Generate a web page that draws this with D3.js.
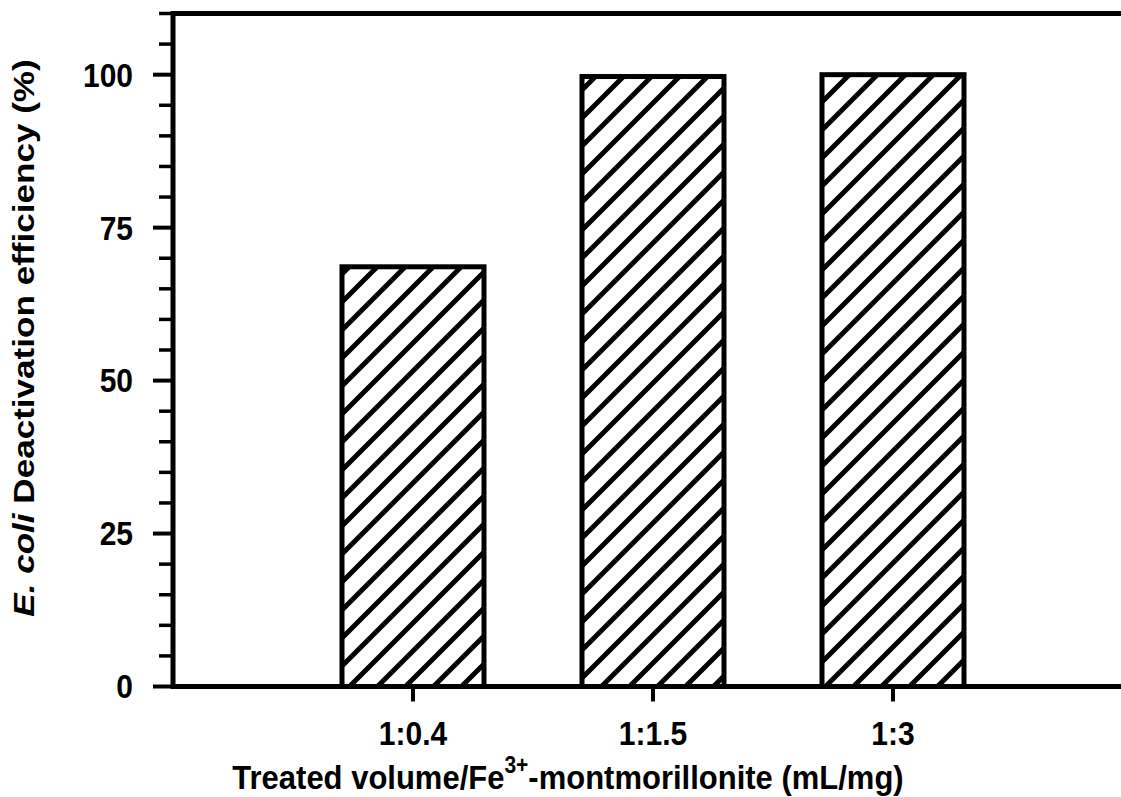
<!DOCTYPE html>
<html>
<head>
<meta charset="utf-8">
<script src="https://cdn.jsdelivr.net/npm/d3@7"></script>
<style>
  html, body { margin: 0; padding: 0; background: #fff; overflow: hidden; }
  svg { display: block; }
  text { font-family: "Liberation Sans", Arial, sans-serif; font-weight: bold; fill: #000; }
</style>
</head>
<body>
<svg id="chart" width="1121" height="797"></svg>
<script>
// ---- data ----
const categories = ["1:0.4", "1:1.5", "1:3"];
const values = [68.6, 99.7, 100];
const yMajorTicks = [0, 25, 50, 75, 100];
const yMinorTicks = [5, 10, 15, 20, 30, 35, 40, 45, 55, 60, 65, 70, 80, 85, 90, 95, 105, 110];
const yTitleItalic = "E. coli";
const yTitleRest = " Deactivation efficiency (%)";
const xTitleParts = ["Treated volume/Fe", "3+", "-montmorillonite (mL/mg)"];

// ---- layout ----
const svg = d3.select("#chart");
const pLeft = 173, pTop = 13.5, pBottom = 686.5, pRight = 1133;
const x = d3.scaleLinear().domain([0, 4]).range([pLeft, pRight]);
const y = d3.scaleLinear().domain([0, 110]).range([pBottom, pTop]);
const barW = 142;
const vStretch = 1.1; // text in the reference is slightly taller than wide

// hatch pattern
const defs = svg.append("defs");
const s = 28;
const pat = defs.append("pattern")
  .attr("id", "hatch").attr("patternUnits", "userSpaceOnUse")
  .attr("width", s).attr("height", s);
pat.append("rect").attr("width", s).attr("height", s).attr("fill", "#fff");
pat.append("path")
  .attr("d", `M-4,4 L4,-4 M0,${s} L${s},0 M${s-4},${s+4} L${s+4},${s-4}`)
  .attr("stroke", "#000").attr("stroke-width", 5);

// bars
svg.append("g").selectAll("rect").data(values).join("rect")
  .attr("x", (d, i) => x(i + 1) - barW / 2)
  .attr("y", d => y(d))
  .attr("width", barW)
  .attr("height", d => y(0) - y(d))
  .attr("fill", "url(#hatch)")
  .attr("stroke", "#000").attr("stroke-width", 5);

// frame: left, top, bottom (right is beyond the view)
svg.append("path")
  .attr("d", `M${pRight},${pTop} L${pLeft},${pTop} L${pLeft},${pBottom} L${pRight},${pBottom}`)
  .attr("fill", "none").attr("stroke", "#000").attr("stroke-width", 5);

// y axis ticks
const yg = svg.append("g");
yg.selectAll("line.major").data(yMajorTicks).join("line").attr("class", "major")
  .attr("x1", pLeft - 20).attr("x2", pLeft).attr("y1", d => y(d)).attr("y2", d => y(d))
  .attr("stroke", "#000").attr("stroke-width", 4);
yg.selectAll("line.minor").data(yMinorTicks).join("line").attr("class", "minor")
  .attr("x1", pLeft - 14).attr("x2", pLeft).attr("y1", d => y(d)).attr("y2", d => y(d))
  .attr("stroke", "#000").attr("stroke-width", 3.5);
yg.selectAll("text").data(yMajorTicks).join("text")
  .attr("transform", d => `translate(133,${y(d)}) scale(1,${vStretch})`)
  .attr("dy", "0.36em")
  .attr("text-anchor", "end").attr("font-size", 30)
  .text(d => d);

// x axis ticks
const xg = svg.append("g");
xg.selectAll("line").data(categories).join("line")
  .attr("x1", (d, i) => x(i + 1)).attr("x2", (d, i) => x(i + 1))
  .attr("y1", pBottom).attr("y2", pBottom + 15)
  .attr("stroke", "#000").attr("stroke-width", 4);
xg.selectAll("text").data(categories).join("text")
  .attr("transform", (d, i) => `translate(${x(i + 1)},745) scale(1,${vStretch})`)
  .attr("text-anchor", "middle").attr("font-size", 30)
  .text(d => d);

// x title
const xt = svg.append("text")
  .attr("transform", `translate(568,789) scale(1,${vStretch})`)
  .attr("text-anchor", "middle").attr("font-size", 31);
xt.append("tspan").text(xTitleParts[0]);
xt.append("tspan").attr("font-size", 21).attr("dy", -15).text(xTitleParts[1]);
xt.append("tspan").attr("dy", 15).text(xTitleParts[2]);

// y title (stretched along its length, as in the reference)
const yt = svg.append("text")
  .attr("transform", "translate(34,338) rotate(-90) scale(1.17,1)")
  .attr("text-anchor", "middle").attr("font-size", 30);
yt.append("tspan").attr("font-style", "italic").text(yTitleItalic);
yt.append("tspan").text(yTitleRest);
</script>
</body>
</html>
